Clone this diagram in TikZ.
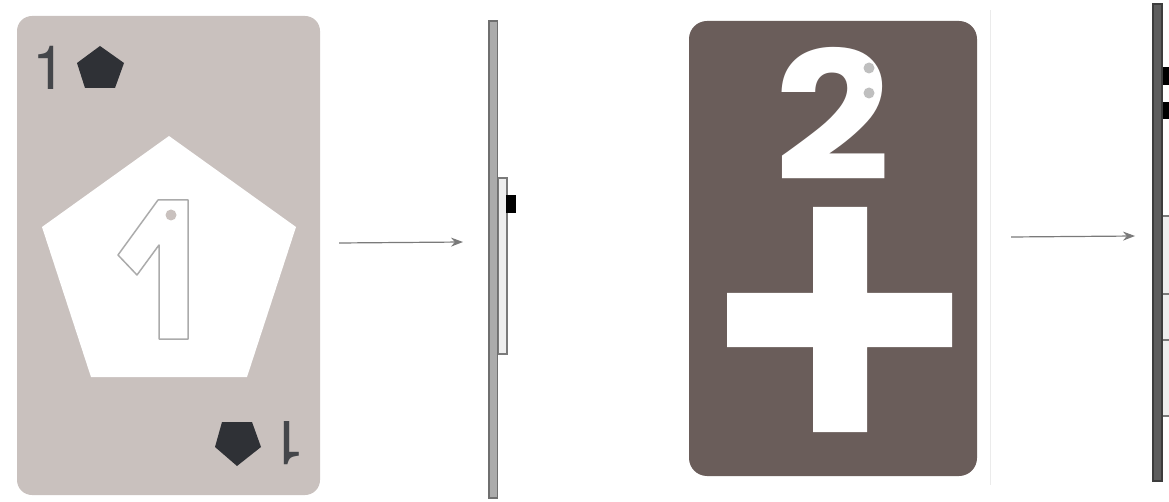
\documentclass[tikz,border=0pt]{standalone}
\usepackage{fontspec}
\setmainfont{TeX Gyre Heros}
\newfontfamily\twofont{Poppins Bold}
\usetikzlibrary{arrows.meta}
\definecolor{cardlight}{HTML}{C9C1BE}
\definecolor{carddark}{HTML}{6A5D5A}
\definecolor{pip}{HTML}{2F3136}
\definecolor{arrowgrey}{HTML}{7A7A7A}
\definecolor{barlight}{HTML}{ABABAB}
\definecolor{bardark}{HTML}{5E5E5E}
\definecolor{strip}{HTML}{EEEEEE}
\tikzset{
  x=1pt,y=-1pt,
  flow/.style={draw=arrowgrey,line width=1.2pt,-{Stealth[length=12pt,width=9pt]}},
  sidebar/.style={draw=#1!65!black,fill=#1,line width=1.4pt},
  stripbox/.style={draw=arrowgrey,fill=strip,line width=1.3pt},
  knob/.style={fill=black,draw=none},
  numeral/.style={inner sep=0pt,outer sep=0pt,text=pip!90!white}
}
\begin{document}
\begin{tikzpicture}
\useasboundingbox (0,0) rectangle (1169,502);
\begin{scope}
\clip (0,0) rectangle (1169,502);
% left card
\fill[cardlight,rounded corners=15pt] (17,16) rectangle (320,495);
\fill[white] (169,136) -- (296,227) -- (247,377) -- (91,377) -- (42,227) -- cycle;
\draw[draw=black!33,line width=1.5pt,line join=round]
  (158,200) -- (188,200) -- (188,339) -- (159,339) -- (159,245) -- (137,275) -- (118,255) -- cycle;
\fill[cardlight] (171,215) circle (5.5);
\fill[pip] (100,46) -- (124,63) -- (115,88) -- (85,88) -- (77,63) -- cycle;
\fill[pip] (222,422) -- (252,422) -- (261,447) -- (237,466) -- (215,447) -- cycle;
\node[numeral,font=\fontsize{61}{61}\selectfont] (onetop) at (49,68) {1};
\node[numeral,font=\fontsize{61}{61}\selectfont,rotate=180] (onebot) at (289,443) {1};
% right card
\draw[draw=black!8,line width=1pt] (990,10) -- (990,485);
\fill[carddark,rounded corners=18pt] (689,21) rectangle (977,476);
\node[inner sep=0pt,text=white,xscale=1.36,yscale=1.19,font=\twofont\fontsize{150}{150}\selectfont] (two) at (833,114) {2};
\fill[black!25] (869,68) circle (5.5);
\fill[black!25] (869,93) circle (5.5);
\fill[white] (813,207) -- (867,207) -- (867,293) -- (952,293) -- (952,347) -- (867,347) -- (867,432) -- (813,432) -- (813,347) -- (727,347) -- (727,293) -- (813,293) -- cycle;
% side views
\coordinate (a1) at (339,243); \coordinate (b1) at (463,242);
\coordinate (a2) at (1011,237); \coordinate (b2) at (1135,236);
\draw[flow] (a1) -- (b1);
\draw[flow] (a2) -- (b2);
\draw[stripbox] (498,178) rectangle (507,354);
\fill[knob] (506,195) rectangle (516,213);
\draw[sidebar=barlight] (489,21) rectangle (497.5,498);
\draw[stripbox] (1162.5,216) rectangle (1175,416);
\draw[arrowgrey,line width=1.3pt] (1162.5,294) -- (1175,294);
\draw[arrowgrey,line width=1.3pt] (1162.5,340) -- (1175,340);
\fill[knob] (1162,67) rectangle (1175,85);
\fill[knob] (1162,102) rectangle (1175,119);
\draw[sidebar=bardark] (1153,4) rectangle (1162,481);
\end{scope}
\end{tikzpicture}
\end{document}
